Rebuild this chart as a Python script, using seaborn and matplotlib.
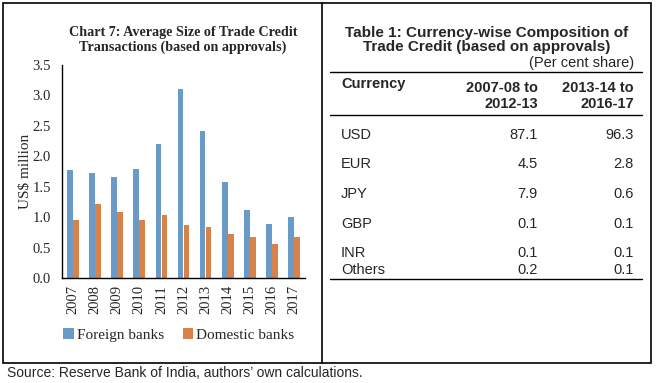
import pandas as pd
import matplotlib.pyplot as plt
import seaborn as sns

# chart data
years = ["2007", "2008", "2009", "2010", "2011", "2012", "2013", "2014", "2015", "2016", "2017"]
foreign = [1.78, 1.73, 1.66, 1.79, 2.21, 3.10, 2.42, 1.58, 1.12, 0.89, 1.00]
domestic = [0.96, 1.21, 1.09, 0.96, 1.03, 0.87, 0.83, 0.72, 0.67, 0.56, 0.67]

# table data
currencies = ["USD", "EUR", "JPY", "GBP", "INR", "Others"]
share_early = ["87.1", "4.5", "7.9", "0.1", "0.1", "0.2"]
share_late = ["96.3", "2.8", "0.6", "0.1", "0.1", "0.1"]

df = pd.DataFrame({
    "year": years * 2,
    "value": foreign + domestic,
    "bank": ["Foreign banks"] * len(years) + ["Domestic banks"] * len(years),
})

sns.set_style("white")
serif = ["Liberation Serif", "DejaVu Serif"]
sans = ["Liberation Sans", "DejaVu Sans"]

W, H = 657, 383
fig = plt.figure(figsize=(W / 100, H / 100), dpi=100)


def fx(px):
    return px / W


def fy(py):
    return 1 - py / H


ax = fig.add_axes([fx(62), fy(278), fx(305) - fx(62), fy(65) - fy(278)])
sns.barplot(
    data=df, x="year", y="value", hue="bank",
    palette=["#5B9BD5", "#ED7D31"], width=0.54, gap=0.04,
    linewidth=0, ax=ax,
)
ax.set_ylim(0, 3.5)
ax.set_yticks([0, 0.5, 1.0, 1.5, 2.0, 2.5, 3.0, 3.5])
ax.set_yticklabels([f"{v:.1f}" for v in ax.get_yticks()], fontfamily=serif, fontsize=10.5)
ax.set_xticks(range(len(years)))
ax.set_xticklabels(years, rotation=90, fontfamily=serif, fontsize=10.5)
ax.tick_params(axis="y", length=0, pad=8)
ax.tick_params(axis="x", length=0, pad=5)
ax.set_xlabel("")
ax.set_ylabel("US$ million", fontfamily=serif, fontsize=11, labelpad=0)
for s in ["top", "right"]:
    ax.spines[s].set_visible(False)
for s in ["left", "bottom"]:
    ax.spines[s].set_color("black")
    ax.spines[s].set_linewidth(1)

ax.get_legend().remove()
handles, labels = ax.get_legend_handles_labels()
fig.legend(handles, labels, loc="center", bbox_to_anchor=(fx(179), fy(335)),
           ncol=2, frameon=False, prop={"family": serif, "size": 11},
           handlelength=0.7, handleheight=0.7, handletextpad=0.2, columnspacing=1.2)

fig.text(fx(183), fy(40), "Chart 7: Average Size of Trade Credit\nTransactions (based on approvals)",
         ha="center", va="center", fontfamily=serif, fontweight="bold", fontsize=10.2,
         linespacing=1.2)

# borders
fig.add_artist(plt.Rectangle((fx(3), fy(363)), fx(651) - fx(3), fy(3) - fy(363),
                             fill=False, edgecolor="black", linewidth=1.2,
                             transform=fig.transFigure))
fig.add_artist(plt.Line2D([fx(322), fx(322)], [fy(3), fy(363)], color="black",
                          linewidth=1.2, transform=fig.transFigure))

# table
fig.text(fx(487), fy(40), "Table 1: Currency-wise Composition of\nTrade Credit (based on approvals)",
         ha="center", va="center", fontfamily=sans, fontweight="bold", fontsize=11,
         linespacing=1.0)
fig.text(fx(634), fy(63), "(Per cent share)", ha="right", va="center",
         fontfamily=sans, fontsize=10.5)
for yy in [72, 115, 279]:
    fig.add_artist(plt.Line2D([fx(330), fx(642)], [fy(yy), fy(yy)], color="black",
                              linewidth=1.0, transform=fig.transFigure))
fig.text(fx(341), fy(84), "Currency", ha="left", va="center", fontfamily=sans,
         fontweight="bold", fontsize=10.5)
fig.text(fx(538), fy(96), "2007-08 to\n2012-13", ha="right", va="center",
         fontfamily=sans, fontweight="bold", fontsize=10.5, linespacing=1.1)
fig.text(fx(634), fy(96), "2013-14 to\n2016-17", ha="right", va="center",
         fontfamily=sans, fontweight="bold", fontsize=10.5, linespacing=1.1)
row_y = [135, 164, 194, 224, 253, 270]
for cur, a, b, yy in zip(currencies, share_early, share_late, row_y):
    fig.text(fx(341), fy(yy), cur, ha="left", va="center", fontfamily=sans, fontsize=10.5)
    fig.text(fx(538), fy(yy), a, ha="right", va="center", fontfamily=sans, fontsize=10.5)
    fig.text(fx(634), fy(yy), b, ha="right", va="center", fontfamily=sans, fontsize=10.5)

fig.text(fx(7), fy(373), "Source: Reserve Bank of India, authors\u2019 own calculations.",
         ha="left", va="center", fontfamily=sans, fontsize=10)

fig.savefig("out.png", dpi=100)
